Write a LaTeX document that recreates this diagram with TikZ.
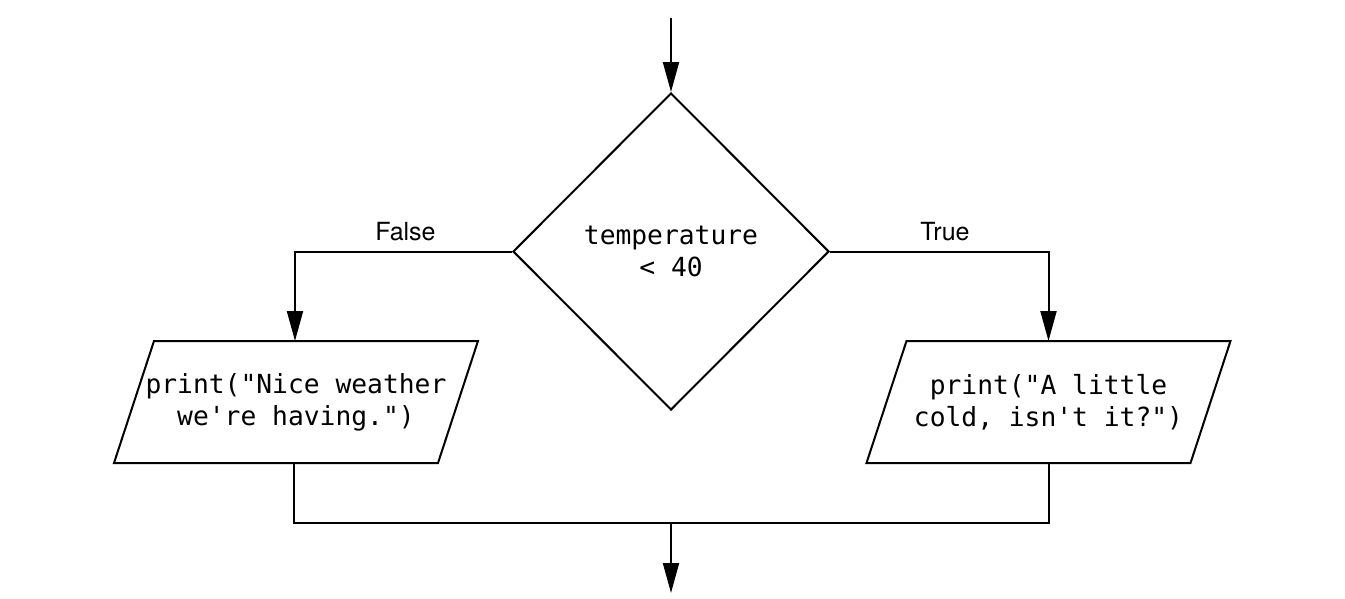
\documentclass[tikz,border=0pt]{standalone}
\usepackage{fontspec}
\setmainfont{TeX Gyre Heros}
\newfontfamily\codefont{DejaVu Sans Mono}
\usetikzlibrary{shapes.geometric,arrows.meta}
\begin{document}
\begin{tikzpicture}[x=1pt,y=-1pt,
  line width=2pt,
  arr/.style={-{Triangle[length=30pt,width=16pt]}},
  code/.style={font=\codefont\fontsize{26.3}{32}\selectfont, align=center},
  decision/.style={draw, diamond, minimum width=316pt, minimum height=317pt, inner sep=0pt, code},
  io/.style={rectangle, minimum width=322pt, minimum height=120pt, inner sep=0pt, code},
  lbl/.style={font=\fontsize{25}{30}\selectfont, anchor=base, inner sep=0pt}]
\useasboundingbox (0,0) rectangle (1345,598);
\coordinate (start) at (671,18);
\node[decision] (D) at (671,251.5) {temperature\\< 40};
\node[io] (L) at (296,402) {print("Nice weather\\we're having.")};
\node[io] (R) at (1048.5,402) {print("A little\\cold, isn't it?")};
\draw ([xshift=20pt]L.north west) -- ([xshift=20pt]L.north east) -- ([xshift=-20pt]L.south east) -- ([xshift=-20pt]L.south west) -- cycle;
\draw ([xshift=20pt]R.north west) -- ([xshift=20pt]R.north east) -- ([xshift=-20pt]R.south east) -- ([xshift=-20pt]R.south west) -- cycle;
\coordinate (M) at (671,523);
\coordinate (end) at (671,593);
\draw[arr] (start) -- (D.north);
\draw[arr] (D.west) -| ([xshift=-1pt]L.north);
\draw[arr] (D.east) -| (R.north);
\node[lbl] (F) at (405.5,240) {False};
\node[lbl] (T) at (945,240) {True};
\draw ([xshift=-2pt]L.south) |- (M) -| (R.south);
\draw[arr] (M) -- (end);
\end{tikzpicture}
\end{document}
